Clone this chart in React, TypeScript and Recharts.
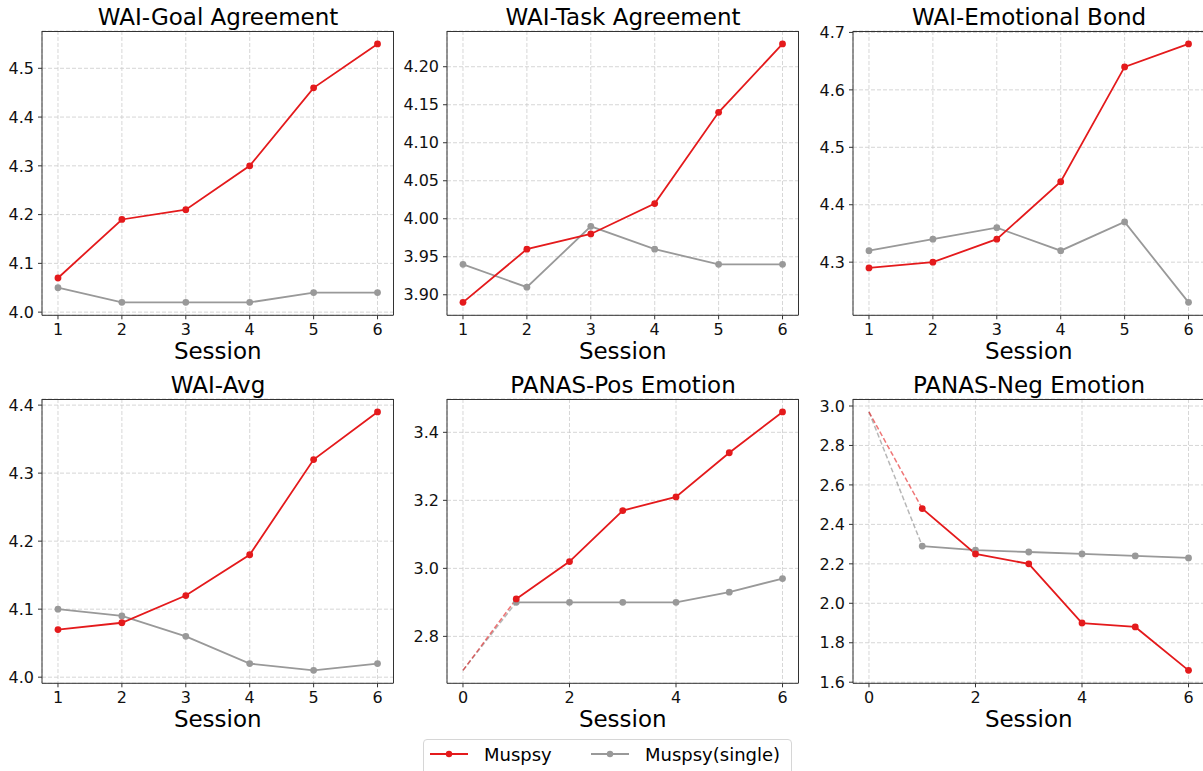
import React from "react";
import { CartesianGrid, Line, LineChart, XAxis, YAxis } from "recharts";

const sessions = [1, 2, 3, 4, 5, 6];

const goalMuspsy = [4.07, 4.19, 4.21, 4.3, 4.46, 4.55];
const goalSingle = [4.05, 4.02, 4.02, 4.02, 4.04, 4.04];
const taskMuspsy = [3.89, 3.96, 3.98, 4.02, 4.14, 4.23];
const taskSingle = [3.94, 3.91, 3.99, 3.96, 3.94, 3.94];
const bondMuspsy = [4.29, 4.3, 4.34, 4.44, 4.64, 4.68];
const bondSingle = [4.32, 4.34, 4.36, 4.32, 4.37, 4.23];
const avgMuspsy = [4.07, 4.08, 4.12, 4.18, 4.32, 4.39];
const avgSingle = [4.1, 4.09, 4.06, 4.02, 4.01, 4.02];
const posMuspsy = [2.91, 3.02, 3.17, 3.21, 3.34, 3.46];
const posSingle = [2.9, 2.9, 2.9, 2.9, 2.93, 2.97];
const negMuspsy = [2.48, 2.25, 2.2, 1.9, 1.88, 1.66];
const negSingle = [2.29, 2.27, 2.26, 2.25, 2.24, 2.23];

// session-0 baselines (drawn dashed)
const posBaseline = 2.7;
const negBaseline = 2.97;

const sessionTicks = [1, 2, 3, 4, 5, 6];
const evenTicks = [0, 2, 4, 6];
const goalTicks = [4.0, 4.1, 4.2, 4.3, 4.4, 4.5];
const taskTicks = [3.9, 3.95, 4.0, 4.05, 4.1, 4.15, 4.2];
const bondTicks = [4.3, 4.4, 4.5, 4.6, 4.7];
const avgTicks = [4.0, 4.1, 4.2, 4.3, 4.4];
const posTicks = [2.8, 3.0, 3.2, 3.4];
const negTicks = [1.6, 1.8, 2.0, 2.2, 2.4, 2.6, 2.8, 3.0];

const RED = "#e41a1c";
const GRAY = "#999999";
const FRAME = "#333333";

type Row = {
  session: number;
  muspsy?: number;
  single?: number;
  dashM?: number;
  dashS?: number;
};

const buildRows = (m: number[], s: number[], baseline?: number): Row[] => {
  const rows: Row[] = sessions.map((x, i) => ({ session: x, muspsy: m[i], single: s[i] }));
  if (baseline !== undefined) {
    rows[0].dashM = m[0];
    rows[0].dashS = s[0];
    rows.unshift({ session: 0, dashM: baseline, dashS: baseline });
  }
  return rows;
};

// matplotlib style 5% margins
const padded = (vals: number[]): [number, number] => {
  const lo = Math.min(...vals);
  const hi = Math.max(...vals);
  const r = hi - lo;
  return [lo - 0.05 * r, hi + 0.05 * r];
};

type Panel = {
  title: string;
  m: number[];
  s: number[];
  baseline?: number;
  xTicks: number[];
  yTicks: number[];
  digits: number;
  px: number;
  py: number;
};

const panels: Panel[] = [
  { title: "WAI-Goal Agreement", m: goalMuspsy, s: goalSingle, xTicks: sessionTicks, yTicks: goalTicks, digits: 1, px: 42.3, py: 31 },
  { title: "WAI-Task Agreement", m: taskMuspsy, s: taskSingle, xTicks: sessionTicks, yTicks: taskTicks, digits: 2, px: 447.3, py: 31 },
  { title: "WAI-Emotional Bond", m: bondMuspsy, s: bondSingle, xTicks: sessionTicks, yTicks: bondTicks, digits: 1, px: 853.3, py: 31.3 },
  { title: "WAI-Avg", m: avgMuspsy, s: avgSingle, xTicks: sessionTicks, yTicks: avgTicks, digits: 1, px: 42.3, py: 399.3 },
  { title: "PANAS-Pos Emotion", m: posMuspsy, s: posSingle, baseline: posBaseline, xTicks: evenTicks, yTicks: posTicks, digits: 1, px: 447.3, py: 399.3 },
  { title: "PANAS-Neg Emotion", m: negMuspsy, s: negSingle, baseline: negBaseline, xTicks: evenTicks, yTicks: negTicks, digits: 1, px: 853.3, py: 399.3 },
];

const PW = 351.5;
const PH = 284.3;
const YW = 45;
const XH = 50;
const MT = 10;
const MR = 8;

const SubChart = ({ p }: { p: Panel }) => {
  const rows = buildRows(p.m, p.s, p.baseline);
  const xs = p.baseline !== undefined ? [0, ...sessions] : sessions;
  const ys = [...p.m, ...p.s, ...(p.baseline !== undefined ? [p.baseline] : [])];
  const dot = (c: string) => ({ r: 3.4, fill: c, stroke: c, strokeWidth: 0 });
  return (
    <>
      <div
        style={{
          position: "absolute",
          left: p.px,
          top: p.py - 25.5,
          width: PW,
          textAlign: "center",
          fontSize: 23,
          lineHeight: "23px",
          color: "#000",
          whiteSpace: "nowrap",
        }}
      >
        {p.title}
      </div>
      <div style={{ position: "absolute", left: p.px - YW, top: p.py - MT }}>
        <LineChart
          width={YW + PW + MR}
          height={MT + PH + XH}
          data={rows}
          margin={{ top: MT, right: MR, bottom: 0, left: 0 }}
        >
          <CartesianGrid stroke="#cccccc" strokeDasharray="4 2" strokeWidth={0.8} />
          <XAxis
            dataKey="session"
            type="number"
            domain={padded(xs)}
            ticks={p.xTicks}
            allowDataOverflow
            height={XH}
            tickSize={4}
            tickMargin={4}
            tick={{ fontSize: 16, fill: "#111" }}
            stroke={FRAME}
            tickLine={{ stroke: FRAME }}
            label={{ value: "Session", position: "insideBottom", offset: 6, fontSize: 23, fill: "#000" }}
          />
          <YAxis
            type="number"
            domain={padded(ys)}
            ticks={p.yTicks}
            allowDataOverflow
            width={YW}
            tickSize={4}
            tickMargin={4}
            tick={{ fontSize: 16, fill: "#111" }}
            tickFormatter={(v: number) => v.toFixed(p.digits)}
            stroke={FRAME}
            tickLine={{ stroke: FRAME }}
          />
          {p.baseline !== undefined && (
            <Line dataKey="dashS" stroke={GRAY} strokeOpacity={0.7} strokeWidth={1.5} strokeDasharray="5 2.5" dot={false} activeDot={false} isAnimationActive={false} />
          )}
          {p.baseline !== undefined && (
            <Line dataKey="dashM" stroke={RED} strokeOpacity={0.6} strokeWidth={1.5} strokeDasharray="5 2.5" dot={false} activeDot={false} isAnimationActive={false} />
          )}
          <Line dataKey="single" stroke={GRAY} strokeWidth={1.8} dot={dot(GRAY)} activeDot={false} isAnimationActive={false} />
          <Line dataKey="muspsy" stroke={RED} strokeWidth={1.8} dot={dot(RED)} activeDot={false} isAnimationActive={false} />
        </LineChart>
      </div>
      {/* top and right spines */}
      <div
        style={{
          position: "absolute",
          left: p.px,
          top: p.py - 0.5,
          width: PW + 0.5,
          height: PH,
          boxSizing: "border-box",
          borderTop: `1px solid ${FRAME}`,
          borderRight: `1px solid ${FRAME}`,
          pointerEvents: "none",
        }}
      />
    </>
  );
};

const legendItems = [
  { name: "Muspsy", color: RED, x: 6 },
  { name: "Muspsy(single)", color: GRAY, x: 167 },
];

const App = () => (
  <div
    style={{
      position: "absolute",
      left: 0,
      top: 0,
      width: 1203,
      height: 771,
      overflow: "hidden",
      background: "#fff",
      fontFamily: "'DejaVu Sans', sans-serif",
    }}
  >
    {panels.map((p) => (
      <SubChart key={p.title} p={p} />
    ))}
    <div
      style={{
        position: "absolute",
        left: 423,
        top: 739,
        width: 367,
        height: 44,
        border: "1px solid #d6d6d6",
        borderRadius: 4,
        background: "#fff",
      }}
    >
      {legendItems.map((it) => (
        <React.Fragment key={it.name}>
          <svg style={{ position: "absolute", left: it.x, top: 7 }} width={40} height={14}>
            <line x1={0} y1={7} x2={38} y2={7} stroke={it.color} strokeWidth={1.8} />
            <circle cx={19} cy={7} r={3.2} fill={it.color} />
          </svg>
          <span
            style={{
              position: "absolute",
              left: it.x + 54,
              top: 6,
              fontSize: 18,
              lineHeight: "18px",
              color: "#000",
              whiteSpace: "nowrap",
            }}
          >
            {it.name}
          </span>
        </React.Fragment>
      ))}
    </div>
  </div>
);

export default App;
